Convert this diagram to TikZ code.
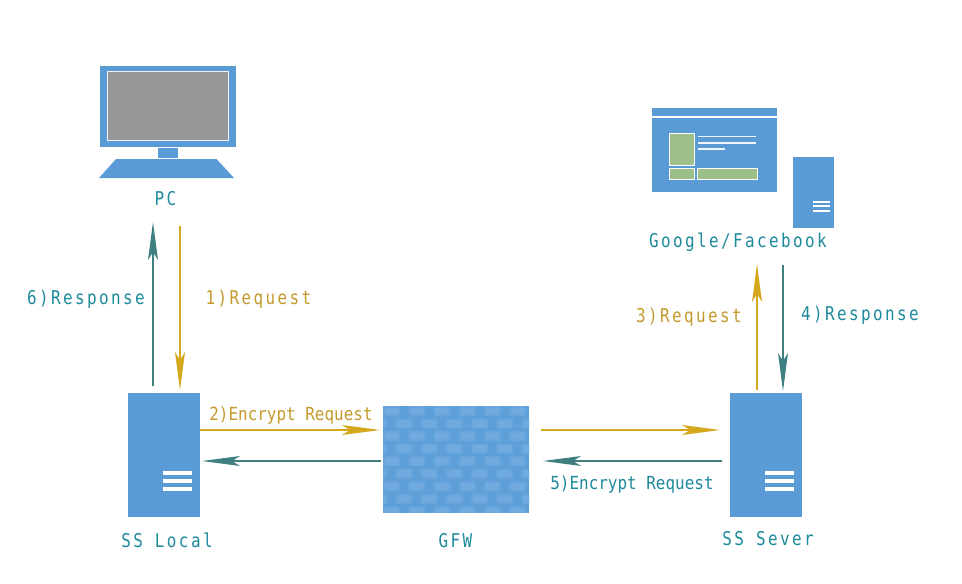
\documentclass[tikz,border=0pt]{standalone}
\usepackage{fontspec}
\usetikzlibrary{arrows.meta}
\setmainfont{DejaVu Sans Mono}[FakeStretch=0.886]
\newfontfamily\widemono{DejaVu Sans Mono}[FakeStretch=0.84,LetterSpace=12.6]
\definecolor{boxblue}{HTML}{5B9BD5}
\definecolor{brickbase}{HTML}{5E9FDA}
\definecolor{brickblue}{HTML}{70AADF}
\definecolor{brickmid}{HTML}{67A5DC}
\definecolor{gold}{HTML}{D4A81C}
\definecolor{tealline}{HTML}{3F7F80}
\definecolor{goldtext}{HTML}{C49A2C}
\definecolor{tealtext}{HTML}{1F8A9C}
\definecolor{leaf}{HTML}{9DC08B}
\definecolor{screen}{HTML}{969696}
\tikzset{
  x=1pt,y=-1pt,
  solid box/.style={fill=boxblue,draw=none,inner sep=0pt,outer sep=0pt,rectangle},
  green box/.style={fill=leaf,draw=white,line width=1.1pt},
  white bar/.style={draw=white,line width=4pt},
  small bar/.style={draw=white,line width=2.1pt},
  thin bar/.style={draw=white!90!boxblue,line width=1.8pt},
  flow/.style={line width=1.8pt,-{Stealth[length=38pt,width=10pt,inset=8pt,line width=0pt]}},
  reqline/.style={flow,draw=gold},
  respline/.style={flow,draw=tealline},
  reqlabel/.style={text=goldtext,font=\fontsize{18}{20}\selectfont,inner sep=0pt},
  resplabel/.style={text=tealtext,font=\fontsize{18}{20}\selectfont,inner sep=0pt},
  reqwide/.style={text=goldtext,font=\widemono\fontsize{19}{21}\selectfont,inner sep=0pt},
  respwide/.style={text=tealtext,font=\widemono\fontsize{19}{21}\selectfont,inner sep=0pt},
}
\begin{document}
\begin{tikzpicture}
\useasboundingbox (0,0) rectangle (962,584);
\fill[white] (0,0) rectangle (962,584);

% PC
\fill[boxblue] (100,66) rectangle (236,147);
\draw[fill=screen,draw=white!90!boxblue,line width=0.9pt] (107.5,71) rectangle (228.5,140.5);
\fill[boxblue] (158,148) rectangle (178,158);
\fill[boxblue] (116,159) -- (216.5,159) -- (234,178) -- (99,178) -- cycle;
\node[respwide] (pc) at (165.5,198.5) {PC};

% Google / Facebook
\fill[boxblue] (652,108) rectangle (777,116);
\fill[boxblue] (652,118) rectangle (777,192);
\draw[green box] (669.5,133.5) rectangle (694.5,165.5);
\draw[green box] (669.5,168.5) rectangle (694.5,179.5);
\draw[green box] (697.5,168.5) rectangle (757.5,179.5);
\draw[thin bar] (698,136.5) -- (756,136.5);
\draw[thin bar] (698,142.7) -- (756,142.7);
\draw[thin bar] (698,148.7) -- (725,148.7);
\fill[boxblue] (793,157) rectangle (834,228);
\draw[small bar] (813,201.7) -- (830,201.7);
\draw[small bar] (813,206.2) -- (830,206.2);
\draw[small bar] (813,210.7) -- (830,210.7);
\node[respwide] (google) at (738,242.5) {Google/Facebook};

% SS Local
\node[solid box,minimum width=72pt,minimum height=124.5pt] (local) at (164,455.2) {};
\draw[white bar] (163,473) -- (192,473);
\draw[white bar] (163,481) -- (192,481);
\draw[white bar] (163,489) -- (192,489);
\node[respwide] (locallabel) at (167,540) {SS Local};

% SS Sever
\node[solid box,minimum width=72pt,minimum height=124.5pt] (server) at (766,455.2) {};
\draw[white bar] (765,473) -- (794,473);
\draw[white bar] (765,481) -- (794,481);
\draw[white bar] (765,489) -- (794,489);
\node[respwide] (serverlabel) at (768,539) {SS Sever};

% GFW
\node[rectangle,fill=brickbase,inner sep=0pt,outer sep=0pt,minimum width=146pt,minimum height=107pt] (gfw) at (456,459.5) {};
\begin{scope}
  \clip (383,406) rectangle (529,512.8);
  \foreach \r in {0,...,8}{
    \pgfmathsetmacro{\yy}{411+12.55*\r}
    \pgfmathsetmacro{\xo}{mod(\r,2)==0 ? 391.7 : 404}
    \foreach \c in {-1,...,6}{
      \pgfmathsetmacro{\xx}{\xo+25.2*\c}
      \fill[brickmid,rounded corners=2pt] (\xx-8.5,\yy-5) rectangle (\xx+8.5,\yy+5);
      \fill[brickblue,rounded corners=2pt] (\xx-7,\yy-3.6) rectangle (\xx+7,\yy+3.6);
    }
  }
\end{scope}
\node[respwide] (gfwlabel) at (455.5,540.5) {GFW};

% connector ends
\coordinate (pcA) at (153,222);
\coordinate (pcB) at (180,226);
\coordinate (locA) at (153,386);
\coordinate (locB) at (180,390);
\coordinate (locE1) at (200,430);
\coordinate (locE2) at (202,461);
\coordinate (gfwL1) at (380,430);
\coordinate (gfwL2) at (381,461);
\coordinate (gfwR1) at (541,430);
\coordinate (gfwR2) at (543,461);
\coordinate (srvW1) at (720,430);
\coordinate (srvW2) at (722,461);
\coordinate (srvN1) at (757,390);
\coordinate (srvN2) at (783,391);
\coordinate (gooS1) at (757,264);
\coordinate (gooS2) at (783,265);

\draw[respline] (locA) -- (pcA);
\draw[reqline] (pcB) -- (locB);
\draw[reqline] (locE1) -- (gfwL1);
\draw[respline] (gfwL2) -- (locE2);
\draw[reqline] (gfwR1) -- (srvW1);
\draw[respline] (srvW2) -- (gfwR2);
\draw[reqline] (srvN1) -- (gooS1);
\draw[respline] (gooS2) -- (srvN2);

% labels
\node[respwide] (l6) at (86,299) {6)Response};
\node[reqwide] (l1) at (258.5,299) {1)Request};
\node[reqwide] (l3) at (689,317) {3)Request};
\node[respwide] (l4) at (860,315) {4)Response};
\node[reqlabel] (l2) at (291,416) {2)Encrypt Request};
\node[resplabel] (l5) at (632,485) {5)Encrypt Request};
\end{tikzpicture}
\end{document}
